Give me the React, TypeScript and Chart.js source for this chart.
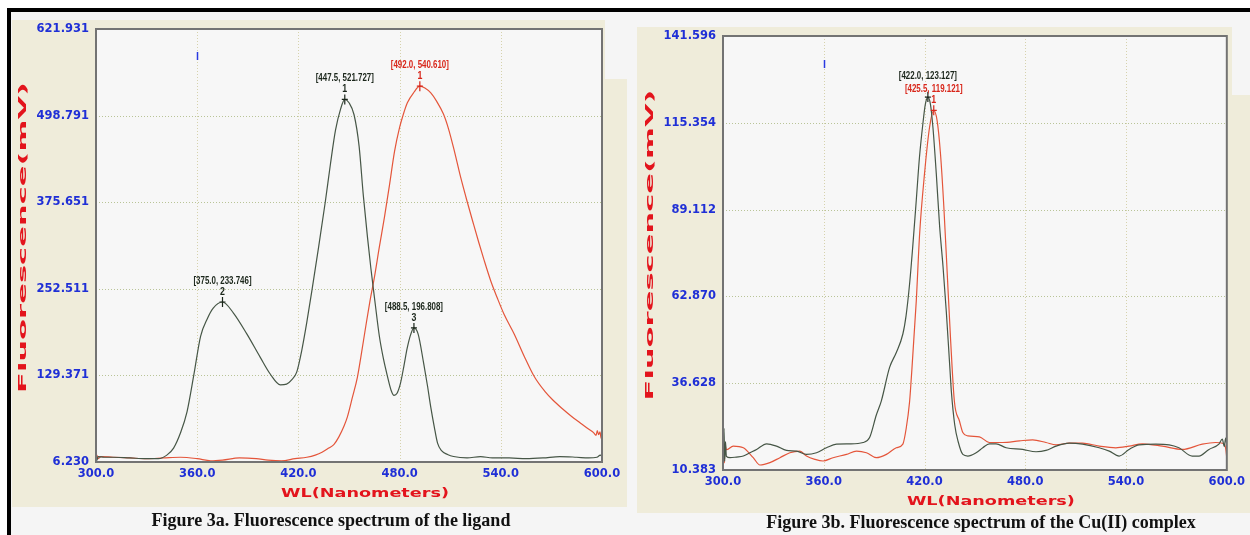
import React, { useEffect, useRef } from 'react';
import { Chart, registerables } from 'chart.js';

Chart.register(...registerables);

type Pt = [number, number];

// ---------- shared axis values ----------
const xTicks = [300, 360, 420, 480, 540, 600];

// ---------- Figure 3a: ligand ----------
const ligandYTicks = [6.23, 129.371, 252.511, 375.651, 498.791, 621.931];

const ligandDark: Pt[] = [
  [300, 15], [300.6, 9], [301.2, 14], [305, 13], [310, 13], [320, 12], [330, 11], [337, 11],
  [342, 16], [346, 26], [350, 47], [354, 78], [358, 130], [362, 185], [366, 210], [369.5, 225],
  [375, 233.746], [381.5, 218], [389.5, 188], [397.4, 155], [403.4, 131], [409.3, 116], [413, 117],
  [416, 123], [419, 134], [422, 165], [425, 205], [428, 250], [432, 312], [436, 377], [439, 430],
  [442, 478], [445, 508], [447.5, 521.727], [450, 517], [453, 500], [456, 455], [458.5, 385],
  [461, 325], [463, 281], [465.5, 232], [468, 185], [470.5, 152], [472.7, 129], [475, 108],
  [476.7, 101], [478.5, 104], [480.5, 118], [482.5, 142], [484.5, 168], [486.5, 187], [488.5, 196.808],
  [491, 188], [494.3, 146], [496.5, 115], [498.5, 84], [500.5, 57], [502.5, 33], [505, 22],
  [508.4, 17], [512, 14], [520, 12], [528, 14], [535, 12], [545, 12], [555, 11], [565, 12],
  [575, 14], [585, 13], [592, 12], [597, 13], [599, 16], [600, 14],
];

const ligandRed: Pt[] = [
  [300, 10], [300.5, 16], [301.2, 11], [303, 14], [310, 13], [320, 12], [330, 11], [340, 12],
  [350, 13], [360, 11], [368, 8], [375, 9], [385, 12], [395, 11], [402, 9], [410, 8], [418, 11],
  [425, 13], [430, 16], [434, 20], [438, 26], [441, 31], [444, 42], [447, 57], [449, 70], [452, 98],
  [455, 127], [457, 155], [460, 200], [462.5, 236], [465, 268], [468, 312], [471, 354], [474, 400],
  [477, 448], [480, 482], [482, 499], [484.6, 517], [488.5, 532], [492, 540.61], [495, 538],
  [498.5, 531], [502, 519], [506, 501], [509, 480], [512.3, 450], [516, 413], [520, 377],
  [524, 343], [527, 318], [530, 294], [534, 264], [538, 239], [542, 216], [548, 188], [554, 156],
  [560, 127], [566, 107], [571, 94], [576, 83], [582, 71], [587.5, 61], [592, 53], [595, 48],
  [596.5, 44], [597.2, 51], [598, 45], [598.8, 49], [599.5, 40], [600, 42],
];

const ligandPeakWL = [447.5, 375.0, 488.5, 492.0];
const ligandPeakVal = [521.727, 233.746, 196.808, 540.61];
const ligandPeakNo = ['1', '2', '3', '1'];
const ligandPeakSeries = [0, 0, 0, 1];

// ---------- Figure 3b: Cu(II) complex ----------
const complexYTicks = [10.383, 36.628, 62.87, 89.112, 115.354, 141.596];

const complexDark: Pt[] = [
  [300, 18], [300.3, 12], [300.6, 23], [301, 13], [301.5, 19], [302, 14.5], [304.2, 14.1],
  [308, 14.3], [312.1, 14.6], [316, 15.6], [320, 16.6], [326, 18.3], [331.9, 17.6], [337.8, 16.3],
  [343.8, 16.1], [349.7, 15.1], [355.7, 15.6], [361.6, 17.1], [367.6, 18.2], [375.5, 18.3],
  [383.4, 18.7], [387.3, 20.2], [391.3, 27], [394.3, 31.3], [399.2, 41.4], [403.2, 45.9],
  [407.1, 51.5], [409, 57], [411.1, 66.6], [413, 78], [415.1, 92], [417, 105], [419, 115],
  [420.5, 121], [422, 123.127], [423.5, 121], [425, 114], [427, 100], [429, 84], [431, 72],
  [433, 58], [435, 42], [436, 34], [438, 24], [440, 19], [442.8, 15.1], [445.8, 14.6],
  [450.7, 15.6], [454.7, 17.1], [458.6, 18.3], [462.6, 18.3], [468.6, 17.1], [478.4, 16.6],
  [486.4, 15.9], [492.3, 16.3], [498.3, 17.6], [506.2, 18.5], [514.1, 18.2], [524, 17.1],
  [530, 16.1], [535.9, 14.6], [541.8, 16.6], [547.8, 18], [557.7, 18.2], [565.6, 18], [571.5, 17.1],
  [579.4, 14.6], [583.4, 14.6], [589.4, 16.6], [595.3, 18.2], [597.3, 19.7], [598.5, 17.5],
  [599.3, 20], [600, 18],
];

const complexRed: Pt[] = [
  [300, 14], [300.4, 19], [300.8, 12.5], [301.2, 18], [302, 16.5], [306.1, 17.6], [312.1, 17.1],
  [318, 14.1], [322, 11.9], [327.9, 12.6], [333.9, 14.1], [339.8, 15.6], [345.8, 16.1],
  [349.7, 14.6], [354.7, 13.6], [359.6, 13.1], [365.5, 14.1], [373.5, 15.1], [379.5, 16.1],
  [385.4, 15.6], [391.3, 14.1], [397.3, 15.1], [403.2, 17.1], [407.1, 18.2], [409.1, 23],
  [411.1, 31], [412.1, 38], [415.1, 61.6], [417.1, 81.9], [420, 100], [423, 114], [425.5, 119.121],
  [427.5, 116], [429.5, 106], [431.5, 90], [433.5, 70], [435.5, 50], [437.8, 31], [440.8, 25.2],
  [442.8, 21.7], [445.8, 20.7], [452.7, 20.4], [458.6, 18.7], [466.5, 18.7], [476.5, 19.2],
  [484.4, 19.5], [492.3, 18.7], [498.3, 18], [506.2, 18.5], [514.1, 18.5], [524, 17.6],
  [533.9, 17.1], [541.8, 17.6], [549.7, 18.3], [561.6, 17.6], [573.5, 16.6], [585.4, 18.2],
  [593.3, 18.7], [598, 18.4], [599.3, 17], [600, 14],
];

const complexPeakWL = [422.0, 425.5];
const complexPeakVal = [123.127, 119.121];
const complexPeakNo = ['', '1'];
const complexPeakSeries = [0, 1];

// ---------- texts ----------
const xTitle = 'WL(Nanometers)';
const yTitle = 'Fluorescence(mV)';
const captionA = 'Figure 3a. Fluorescence spectrum of the ligand';
const captionB = 'Figure 3b. Fluorescence spectrum of the Cu(II) complex';
const markWL = 360;

// ---------- styles ----------
const PLOT_BG = '#f7f7f7';
const PANEL_BG = '#efecda';
const PAGE_BG = '#f5f5f5';
const GRID_V = '#d6d2ad';
const GRID_H = '#b9c497';
const FRAME = '#737373';
const TICK_COLOR = '#1f2fd6';
const TITLE_RED = '#e3141c';
const LINE_DARK = '#465646';
const LINE_RED = '#e4553a';
const ANNO_DARK = '#1b261b';
const ANNO_RED = '#d8261a';

interface Cfg {
  id: string;
  left: number;
  w: number;
  h: number;
  padTop: number;
  padRight: number;
  yAxisW: number;
  xAxisH: number;
  yTicks: number[];
  series: { pts: Pt[]; color: string }[];
  peakWL: number[];
  peakVal: number[];
  peakNo: string[];
  peakSeries: number[];
  markTop: number;
}

const annoColors = [ANNO_DARK, ANNO_RED];

function drawStretched(
  ctx: CanvasRenderingContext2D,
  text: string,
  x: number,
  y: number,
  font: string,
  scaleX: number,
  color: string,
  rotate: boolean,
) {
  ctx.save();
  ctx.font = font;
  ctx.translate(x, y);
  if (rotate) ctx.rotate(-Math.PI / 2);
  ctx.scale(scaleX, 1);
  ctx.fillStyle = color;
  ctx.textAlign = 'center';
  ctx.textBaseline = 'middle';
  ctx.fillText(text, 0, 0);
  ctx.restore();
}

function fitScale(ctx: CanvasRenderingContext2D, text: string, font: string, target: number) {
  ctx.save();
  ctx.font = font;
  const w = ctx.measureText(text).width;
  ctx.restore();
  return target / w;
}

function makePlugin(cfg: Cfg) {
  return {
    id: 'decor_' + cfg.id,
    beforeDatasetsDraw(chart: any) {
      const { ctx, chartArea: a, scales } = chart;
      const xs = scales.x;
      const ys = scales.y;
      ctx.save();
      ctx.fillStyle = PLOT_BG;
      ctx.fillRect(a.left, a.top, a.right - a.left, a.bottom - a.top);
      ctx.lineWidth = 1;
      ctx.setLineDash([1, 2]);
      ctx.strokeStyle = GRID_V;
      xTicks.slice(1, -1).forEach((v) => {
        const p = Math.round(xs.getPixelForValue(v)) + 0.5;
        ctx.beginPath();
        ctx.moveTo(p, a.top);
        ctx.lineTo(p, a.bottom);
        ctx.stroke();
      });
      ctx.strokeStyle = GRID_H;
      cfg.yTicks.slice(1, -1).forEach((v) => {
        const p = Math.round(ys.getPixelForValue(v)) + 0.5;
        ctx.beginPath();
        ctx.moveTo(a.left, p);
        ctx.lineTo(a.right, p);
        ctx.stroke();
      });
      ctx.restore();
    },
    afterDatasetsDraw(chart: any) {
      const { ctx, chartArea: a, scales } = chart;
      const xs = scales.x;
      const ys = scales.y;
      ctx.save();
      // frame
      ctx.strokeStyle = FRAME;
      ctx.lineWidth = 2;
      ctx.setLineDash([]);
      ctx.strokeRect(a.left, a.top, a.right - a.left, a.bottom - a.top);

      // small blue mark
      const mx = Math.round(xs.getPixelForValue(markWL)) + 0.5;
      ctx.strokeStyle = '#2a3ae0';
      ctx.lineWidth = 1.5;
      ctx.beginPath();
      ctx.moveTo(mx, a.top + cfg.markTop);
      ctx.lineTo(mx, a.top + cfg.markTop + 8);
      ctx.stroke();

      // peak annotations
      const annoFont = 'bold 11px "Liberation Sans", Arial, sans-serif';
      cfg.peakWL.forEach((wl, i) => {
        const val = cfg.peakVal[i];
        const px = xs.getPixelForValue(wl);
        const py = ys.getPixelForValue(val);
        const col = annoColors[cfg.peakSeries[i]];
        ctx.strokeStyle = col;
        ctx.lineWidth = 1.2;
        ctx.beginPath();
        ctx.moveTo(px, py - 5);
        ctx.lineTo(px, py + 5);
        ctx.moveTo(px - 3, py);
        ctx.lineTo(px + 3, py);
        ctx.stroke();
        const label = '[' + wl.toFixed(1) + ', ' + val.toFixed(3) + ']';
        drawStretched(ctx, label, px, py - 21.5, annoFont, 0.72, col, false);
        if (cfg.peakNo[i]) {
          drawStretched(ctx, cfg.peakNo[i], px, py - 10.5, annoFont, 0.8, col, false);
        }
      });

      // axis titles (wide, stretched lettering)
      const xf = 'bold 12px "DejaVu Sans", sans-serif';
      drawStretched(
        ctx, xTitle, (a.left + a.right) / 2 + 16, a.bottom + 32, xf,
        fitScale(ctx, xTitle, xf, 168), TITLE_RED, false,
      );
      const yf = 'bold 11px "DejaVu Sans", sans-serif';
      drawStretched(
        ctx, yTitle, a.left - 73, (a.top + a.bottom) / 2 - 8, yf,
        fitScale(ctx, yTitle, yf, 311), TITLE_RED, true,
      );
      ctx.restore();
    },
  };
}

const tickFont = { family: '"DejaVu Sans", sans-serif', size: 11.5, weight: 'bold' as const };

function SpectrumChart({ cfg }: { cfg: Cfg }) {
  const ref = useRef<HTMLCanvasElement | null>(null);
  useEffect(() => {
    if (!ref.current) return;
    const chart = new Chart(ref.current, {
      type: 'line',
      data: {
        datasets: cfg.series.map((s) => ({
          data: s.pts.map(([x, y]) => ({ x, y })),
          borderColor: s.color,
          borderWidth: 1.2,
          pointRadius: 0,
          fill: false,
          cubicInterpolationMode: 'monotone' as const,
        })),
      },
      options: {
        responsive: false,
        animation: false,
        devicePixelRatio: 1,
        events: [],
        layout: { padding: { left: 0, top: cfg.padTop, right: cfg.padRight, bottom: 0 } },
        plugins: { legend: { display: false }, tooltip: { enabled: false } },
        scales: {
          x: {
            type: 'linear',
            min: 300,
            max: 600,
            grid: { display: false, drawTicks: false },
            border: { display: false },
            afterBuildTicks: (s: any) => {
              s.ticks = xTicks.map((v) => ({ value: v }));
            },
            afterFit: (s: any) => {
              s.height = cfg.xAxisH;
            },
            ticks: {
              color: TICK_COLOR,
              font: tickFont,
              padding: 5,
              maxRotation: 0,
              autoSkip: false,
              callback: (v: any) => Number(v).toFixed(1),
            },
          },
          y: {
            type: 'linear',
            min: cfg.yTicks[0],
            max: cfg.yTicks[cfg.yTicks.length - 1],
            grid: { display: false, drawTicks: false },
            border: { display: false },
            afterBuildTicks: (s: any) => {
              s.ticks = cfg.yTicks.map((v) => ({ value: v }));
            },
            afterFit: (s: any) => {
              s.width = cfg.yAxisW;
            },
            ticks: {
              color: TICK_COLOR,
              font: tickFont,
              padding: 7,
              autoSkip: false,
              callback: (v: any) => Number(v).toFixed(3),
            },
          },
        },
      } as any,
      plugins: [makePlugin(cfg)],
    });
    return () => chart.destroy();
  }, [cfg]);
  return (
    <canvas
      ref={ref}
      width={cfg.w}
      height={cfg.h}
      style={{ position: 'absolute', left: cfg.left, top: 0, width: cfg.w, height: cfg.h }}
    />
  );
}

const cfgA: Cfg = {
  id: 'a',
  left: 0,
  w: 630,
  h: 535,
  padTop: 29,
  padRight: 28,
  yAxisW: 96,
  xAxisH: 73,
  yTicks: ligandYTicks,
  series: [
    { pts: ligandDark, color: LINE_DARK },
    { pts: ligandRed, color: LINE_RED },
  ],
  peakWL: ligandPeakWL,
  peakVal: ligandPeakVal,
  peakNo: ligandPeakNo,
  peakSeries: ligandPeakSeries,
  markTop: 23,
};

const cfgB: Cfg = {
  id: 'b',
  left: 630,
  w: 620,
  h: 535,
  padTop: 36,
  padRight: 22,
  yAxisW: 93,
  xAxisH: 65,
  yTicks: complexYTicks,
  series: [
    { pts: complexDark, color: LINE_DARK },
    { pts: complexRed, color: LINE_RED },
  ],
  peakWL: complexPeakWL,
  peakVal: complexPeakVal,
  peakNo: complexPeakNo,
  peakSeries: complexPeakSeries,
  markTop: 24,
};

const box = (l: number, t: number, w: number, h: number, bg: string): React.CSSProperties => ({
  position: 'absolute',
  left: l,
  top: t,
  width: w,
  height: h,
  background: bg,
});

const captionStyle = (cx: number, cy: number): React.CSSProperties => ({
  position: 'absolute',
  left: cx,
  top: cy - 10,
  transform: 'translateX(-50%)',
  font: 'bold 18px "Liberation Serif", "Times New Roman", serif',
  lineHeight: '20px',
  whiteSpace: 'nowrap',
  color: '#111',
});

export default function App() {
  return (
    <div
      style={{
        position: 'absolute',
        left: 0,
        top: 0,
        width: 1250,
        height: 535,
        background: '#ffffff',
        overflow: 'hidden',
      }}
    >
      <div style={box(7, 8, 1243, 527, PAGE_BG)} />
      <div style={box(12, 20, 593, 487, PANEL_BG)} />
      <div style={box(605, 79, 22, 428, PANEL_BG)} />
      <div style={box(637, 27, 595, 486, PANEL_BG)} />
      <div style={box(1232, 95, 18, 418, PANEL_BG)} />
      <div style={box(7, 8, 1243, 4, '#000')} />
      <div style={box(7, 8, 4, 527, '#000')} />
      <SpectrumChart cfg={cfgA} />
      <SpectrumChart cfg={cfgB} />
      <div style={captionStyle(331, 520)}>{captionA}</div>
      <div style={captionStyle(981, 522)}>{captionB}</div>
    </div>
  );
}
